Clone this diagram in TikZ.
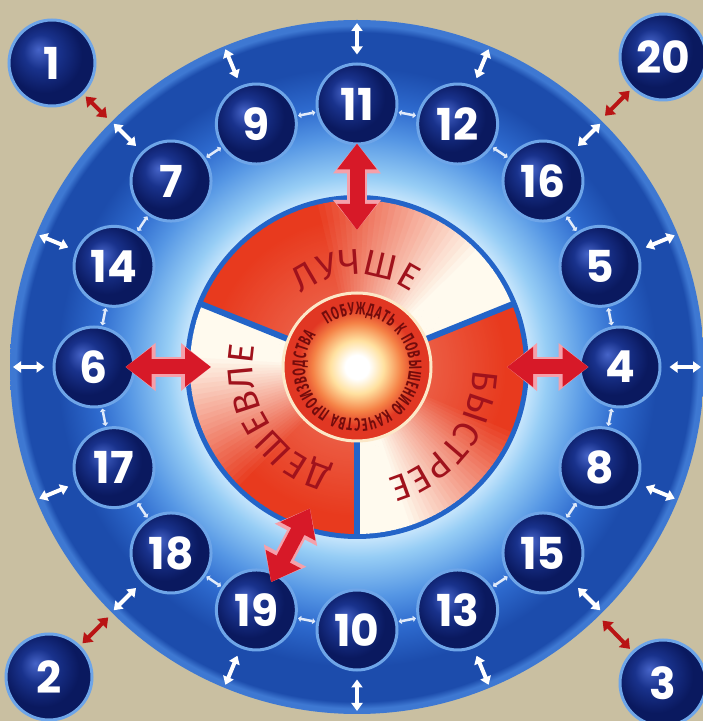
\documentclass[tikz,border=0pt]{standalone}
\usepackage{fontspec}
\setmainfont{Fira Sans}
\newfontfamily\numfont{Poppins}
\newfontfamily\ringfont{Fira Sans}[FakeStretch=0.6]
\usetikzlibrary{calc,arrows.meta,decorations.text,fadings}

% Colours of the board
\definecolor{bgbeige}{RGB}{201,191,161}
\definecolor{discpale}{RGB}{200,230,252}
\definecolor{disclight}{RGB}{150,205,245}
\definecolor{discmid}{RGB}{85,150,228}
\definecolor{discblue}{RGB}{45,105,205}
\definecolor{discdark}{RGB}{28,76,172}
\definecolor{discrim}{RGB}{62,120,210}
\definecolor{sectorblue}{RGB}{35,100,200}
\definecolor{sectred}{RGB}{232,58,30}
\definecolor{sectwhite}{RGB}{255,250,238}
\definecolor{sunyellow}{RGB}{255,225,160}
\definecolor{sunorange}{RGB}{245,130,70}
\definecolor{sunred}{RGB}{225,55,35}
\definecolor{suncream}{RGB}{252,232,200}
\definecolor{ballhi}{RGB}{70,100,200}
\definecolor{ballmid}{RGB}{25,50,140}
\definecolor{balldark}{RGB}{10,25,95}
\definecolor{ballrim}{RGB}{110,165,232}
\definecolor{linkwhite}{RGB}{225,235,250}
\definecolor{darkarrow}{RGB}{185,20,20}
\definecolor{arrowred}{RGB}{215,25,40}
\definecolor{arrowpink}{RGB}{245,160,170}
\definecolor{labelred}{RGB}{160,18,28}
\definecolor{ringred}{RGB}{115,12,12}

% Shadings
\pgfdeclareradialshading{bluedisc}{\pgfpoint{0bp}{0bp}}{color(0bp)=(discpale); color(12.3bp)=(discpale); color(13.7bp)=(disclight); color(16.6bp)=(discmid); color(19bp)=(discblue); color(21.6bp)=(discdark); color(24.1bp)=(discdark); color(24.6bp)=(discrim); color(25bp)=(discrim); color(50bp)=(discrim)}
\pgfdeclareradialshading{ballshade}{\pgfpoint{-8bp}{8bp}}{color(0bp)=(ballhi); color(10bp)=(ballmid); color(22bp)=(balldark); color(50bp)=(balldark)}
\pgfdeclareradialshading{sunshade}{\pgfpoint{0bp}{0bp}}{color(0bp)=(white); color(4bp)=(white); color(9bp)=(sunyellow); color(15bp)=(sunorange); color(20bp)=(sunred); color(25bp)=(sunred); color(50bp)=(sunred)}
\tikzfading[name=glowfade, inner color=transparent!0, outer color=transparent!100]

\tikzset{
    numball/.style={circle, minimum size=80pt, inner sep=0pt, shading=ballshade, draw=ballrim, line width=3pt, text=white, font=\numfont\bfseries\fontsize{44}{44}\selectfont},
    cornerball/.style={numball, minimum size=86pt},
    radarrow/.style={draw=white, line width=4pt, {Triangle[width=11pt,length=8pt]}-{Triangle[width=11pt,length=8pt]}, shorten <=8pt, shorten >=2pt},
    linkarrow/.style={draw=linkwhite, line width=2.5pt, {Triangle[width=6pt,length=3pt]}-{Triangle[width=6pt,length=3pt]}, shorten <=1pt, shorten >=1pt},
    cornerarrow/.style={draw=darkarrow, line width=4pt, {Triangle[width=13pt,length=9pt]}-{Triangle[width=13pt,length=9pt]}, shorten <=3pt, shorten >=3pt},
    bigarrow/.style={draw=arrowred, line width=15pt, {Triangle[width=38pt,length=26pt]}-{Triangle[width=38pt,length=26pt]}, shorten <=-10pt, preaction={draw=arrowpink, line width=20pt, {Triangle[width=46pt,length=30pt]}-{Triangle[width=46pt,length=30pt]}}},
    sectorlabel/.style={decorate, decoration={text along path, text align=center, text color=labelred, text={|\fontsize{36}{36}\selectfont|#1}}},
    ringtext/.style={decorate, decoration={text along path, text align={fit to path}, text color=ringred, text={|\ringfont\bfseries\fontsize{18}{18}\selectfont|#1}}}
}

\begin{document}
\begin{tikzpicture}[x=1pt,y=1pt]

    % Background and size of the picture
    \useasboundingbox (0,0) rectangle (703,721);
    \fill[bgbeige] (0,0) rectangle (703,721);

    % Centre of the board
    \coordinate (C) at (357,354);

    % Big blue disc
    \shade[shading=bluedisc] (C) circle[radius=347];

    % Three coloured sectors, white to red going round
    \fill[sectorblue] (C) circle[radius=172];
    \foreach \s/\w in {22/136,158/112,270/112} {
        \foreach \k in {0,...,59} {
            \pgfmathsetmacro\a{\s+\k*\w/60}
            \pgfmathsetmacro\b{\a+\w/60+0.4}
            \pgfmathtruncatemacro\p{100*min(1,max(0,(\k/60-0.15)/0.45))}
            \fill[sectred!\p!sectwhite] (C) -- ($(C)+(\a:167)$) arc[start angle=\a, end angle=\b, radius=167] -- cycle;
        }
    }
    \fill[sectwhite, path fading=glowfade, fill opacity=0.35] (C) circle[radius=150];

    % Blue lines between the sectors
    \draw[sectorblue, line width=6pt] (C) -- ($(C)+(22:170)$);
    \draw[sectorblue, line width=6pt] (C) -- ($(C)+(158:170)$);
    \draw[sectorblue, line width=6pt] (C) -- ($(C)+(270:170)$);

    % Glowing centre with its text
    \shade[shading=sunshade] (C) circle[radius=74];
    \draw[suncream, line width=3pt] (C) circle[radius=74];
    \path[ringtext={ПОБУЖДАТЬ К ПОВЫШЕНИЮ КАЧЕСТВА ПРОИЗВОДСТВА}] ($(C)+(125:52)$) arc[start angle=125, end angle=-218, radius=52];

    % Sector labels
    \path[sectorlabel=ЛУЧШЕ] ($(C)+(150:92)$) arc[start angle=150, end angle=32, radius=92];
    \path[sectorlabel=БЫСТРЕЕ] ($(C)+(30:116)$) arc[start angle=30, end angle=-106, radius=116];
    \path[sectorlabel=ДЕШЕВЛЕ] ($(C)+(260:104)$) arc[start angle=260, end angle=164, radius=104];

    % Ring of numbered balls
    \node[numball] (n11) at ($(C)+(90:263)$) {11};
    \node[numball] (n12) at ($(C)+(67.5:263)$) {12};
    \node[numball] (n16) at ($(C)+(45:263)$) {16};
    \node[numball] (n5) at ($(C)+(22.5:263)$) {5};
    \node[numball] (n4) at ($(C)+(0:263)$) {4};
    \node[numball] (n8) at ($(C)+(-22.5:263)$) {8};
    \node[numball] (n15) at ($(C)+(-45:263)$) {15};
    \node[numball] (n13) at ($(C)+(-67.5:263)$) {13};
    \node[numball] (n10) at ($(C)+(-90:263)$) {10};
    \node[numball] (n19) at ($(C)+(-112.5:263)$) {19};
    \node[numball] (n18) at ($(C)+(-135:263)$) {18};
    \node[numball] (n17) at ($(C)+(-157.5:263)$) {17};
    \node[numball] (n6) at ($(C)+(180:263)$) {6};
    \node[numball] (n14) at ($(C)+(157.5:263)$) {14};
    \node[numball] (n7) at ($(C)+(135:263)$) {7};
    \node[numball] (n9) at ($(C)+(112.5:263)$) {9};

    % Corner balls
    \node[cornerball] (c1) at (52,658) {1};
    \node[cornerball] (c20) at (663,664) {20};
    \node[cornerball] (c2) at (49,44) {2};
    \node[cornerball] (c3) at (663,38) {3};

    % Small white arrows between neighbours and to the rim
    \foreach \a/\b in {11/12,12/16,16/5,5/4,4/8,8/15,15/13,13/10,10/19,19/18,18/17,17/6,6/14,14/7,7/9,9/11}
        \draw[linkarrow] (n\a) -- (n\b);
    \foreach \n in {11,12,16,5,4,8,15,13,10,19,18,17,6,14,7,9} {
        \coordinate (e\n) at ($(C)!346pt!(n\n)$);
        \draw[radarrow] (n\n) -- (e\n);
    }

    % Red arrows from the corner balls to the rim
    \foreach \c in {1,20,2,3} {
        \coordinate (r\c) at ($(C)!350pt!(c\c)$);
        \draw[cornerarrow] (c\c) -- (r\c);
    }

    % Big red arrows into the sectors
    \coordinate (s11) at ($(C)+(90:137)$);
    \coordinate (s6) at ($(C)+(180:146)$);
    \coordinate (s4) at ($(C)+(0:150)$);
    \coordinate (s19) at ($(C)+(251.6:149)$);
    \draw[bigarrow, shorten <=-2pt] (n11) -- (s11);
    \draw[bigarrow] (n6) -- (s6);
    \draw[bigarrow] (n4) -- (s4);
    \draw[bigarrow] (n19) -- (s19);

\end{tikzpicture}
\end{document}
